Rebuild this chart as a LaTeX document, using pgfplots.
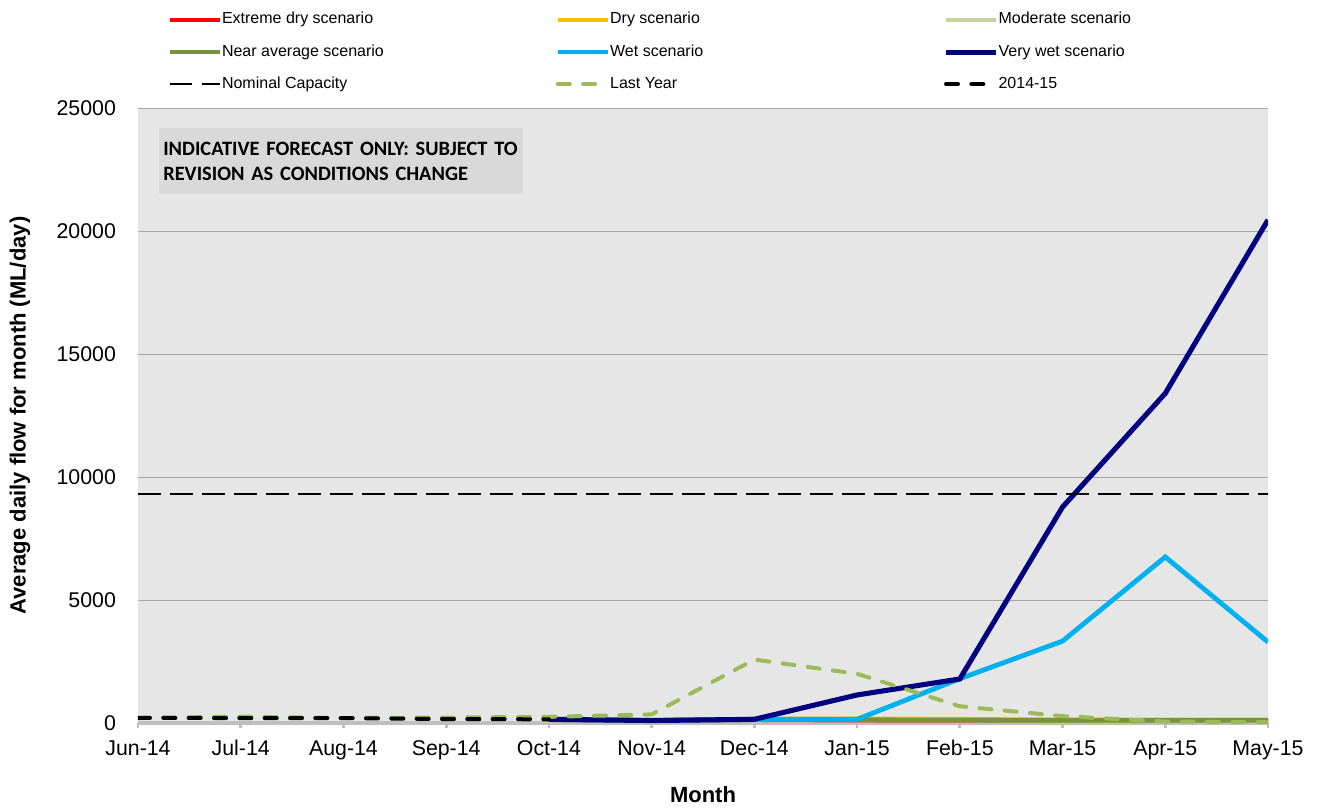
\documentclass[border=0pt]{standalone}
\usepackage{pgfplots}
\pgfplotsset{compat=1.18}
\usepackage{fontspec}
\setmainfont{Liberation Sans}
\newfontfamily\calibri{Carlito}
\definecolor{cExtDry}{HTML}{FF0000}
\definecolor{cDry}{HTML}{FFC000}
\definecolor{cMod}{HTML}{C3D69B}
\definecolor{cNear}{HTML}{77933C}
\definecolor{cWet}{HTML}{00B0F0}
\definecolor{cVWet}{HTML}{000080}
\definecolor{cLast}{HTML}{9BBB59}
\definecolor{bgcol}{HTML}{E6E6E6}
\definecolor{boxcol}{HTML}{D9D9D9}
\definecolor{gridcol}{HTML}{A6A6A6}
\definecolor{axcol}{HTML}{BFBFBF}
\begin{document}
\begin{tikzpicture}
\useasboundingbox (-103.5pt,-63pt) rectangle (885.75pt,542.25pt);
\begin{axis}[
  scale only axis,
  width=847.5pt, height=461.25pt,
  xmin=0, xmax=11, ymin=0, ymax=25000,
  xtick={0,...,11},
  xticklabels={Jun-14,Jul-14,Aug-14,Sep-14,Oct-14,Nov-14,Dec-14,Jan-15,Feb-15,Mar-15,Apr-15,May-15},
  ytick={0,5000,...,25000},
  scaled ticks=false,
  /pgf/number format/assume math mode=true,
  yticklabel style={/pgf/number format/1000 sep={}, xshift=-9pt},
  xticklabel style={yshift=-5pt, text height=11.5pt, text depth=3pt},
  tick label style={font=\fontsize{16}{18}\selectfont},
  axis background/.style={fill=bgcol},
  axis x line*=bottom, axis y line*=left,
  x axis line style={draw=axcol, line width=3.5pt},
  y axis line style={draw=none},
  tick align=outside,
  major tick length=4pt,
  xtick style={draw=axcol, line width=2pt},
  ytick style={draw=none},
  ymajorgrids,
  grid style={draw=gridcol, line width=0.6pt},
  xlabel={\textbf{Month}},
  ylabel={\textbf{Average daily flow for month (ML/day)}},
  every axis x label/.style={at={(axis description cs:0.5,-0.117)}, anchor=center, font=\fontsize{16.5}{18}\selectfont},
  every axis y label/.style={at={(axis description cs:-0.1044,0.5)}, anchor=center, rotate=90, font=\fontsize{16.5}{18}\selectfont},
  legend columns=3,
  legend cell align=left,
  legend style={at={(0.0221,1.1610)}, anchor=north west, draw=none, fill=none,
    font=\fontsize{12}{14}\selectfont,
    nodes={inner sep=0pt, text height=9pt, text depth=3pt},
    /tikz/every even column/.style={column sep=2pt},
    row sep=12.1pt},
  legend image code/.code={\draw[#1] (0pt,0pt) -- (37.5pt,0pt);},
]
% scenarios (Oct-14 .. May-15)
\addplot[cExtDry, line width=3.6pt] coordinates {(4,140)(5,100)(6,140)(7,120)(8,110)(9,100)(10,100)(11,100)};
\addlegendentry{\makebox[248pt][l]{Extreme dry scenario}}
\addplot[cDry, line width=3.6pt] coordinates {(4,150)(5,100)(6,150)(7,170)(8,150)(9,120)(10,110)(11,110)};
\addlegendentry{\makebox[248pt][l]{Dry scenario}}
\addplot[cMod, line width=3.6pt] coordinates {(4,140)(5,100)(6,140)(7,130)(8,120)(9,110)(10,110)(11,110)};
\addlegendentry{Moderate scenario}
\addplot[cNear, line width=3.6pt] coordinates {(4,150)(5,100)(6,150)(7,130)(8,120)(9,110)(10,110)(11,110)};
\addlegendentry{\makebox[248pt][l]{Near average scenario}}
\addplot[cWet, line width=3.6pt] coordinates {(4,150)(5,100)(6,150)(7,150)(8,1800)(9,3330)(10,6750)(11,3290)};
\addlegendentry{\makebox[248pt][l]{Wet scenario}}
\addplot[cVWet, line width=3.8pt] coordinates {(4,150)(5,100)(6,150)(7,1140)(8,1790)(9,8780)(10,13400)(11,20450)};
\addlegendentry{Very wet scenario}
\addplot[black, line width=1.8pt, dash pattern=on 17pt off 7pt] coordinates {(0,9300)(11,9300)};
\addlegendentry{\makebox[248pt][l]{Nominal Capacity}}
\addplot[cLast, line width=3pt, line cap=round, dash pattern=on 9pt off 10pt] coordinates {(0,200)(1,260)(2,200)(3,220)(4,250)(5,350)(6,2580)(7,2000)(8,680)(9,280)(10,60)(11,30)};
\addlegendentry{\makebox[248pt][l]{Last Year}}
\addplot[black, line width=3pt, line cap=round, dash pattern=on 9pt off 10pt] coordinates {(0,210)(1,200)(2,200)(3,160)(4,150)};
\addlegendentry{2014-15}
\node[fill=boxcol, anchor=north west, inner xsep=3pt, inner ysep=0pt, text width=267pt, minimum height=49.5pt, align=left, font=\calibri\bfseries\fontsize{15.3}{18.5}\selectfont] at (rel axis cs:0.0186,0.9675) {INDICATIVE FORECAST ONLY: SUBJECT TO\\REVISION AS CONDITIONS CHANGE};
\end{axis}
\end{tikzpicture}
\end{document}
